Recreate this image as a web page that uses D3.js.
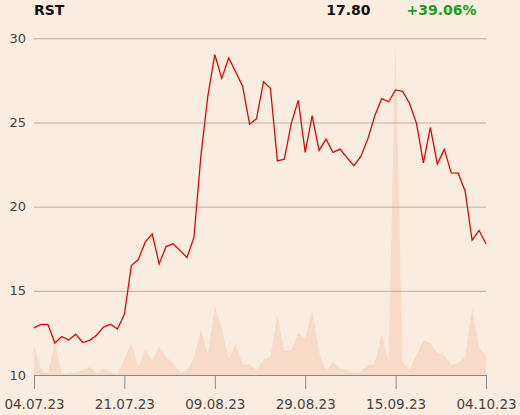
<!DOCTYPE html>
<html>
<head>
<meta charset="utf-8">
<script src="https://cdn.jsdelivr.net/npm/d3@7/dist/d3.min.js"></script>
<style>
    body { margin: 0; background: #fbece0; }
    svg { display: block; font-family: "DejaVu Sans", sans-serif; }
</style>
</head>
<body>
<svg id="chart"></svg>
<script>
'use strict';

var symbol = "RST",
    lastPrice = "17.80",
    change = "+39.06%";

// closing prices, one per trading day 04.07.23 - 04.10.23
var prices = [
    12.80, 13.00, 13.00, 11.90, 12.28, 12.08, 12.42, 11.93, 12.06, 12.36,
    12.85, 13.01, 12.73, 13.61, 16.50, 16.86, 17.89, 18.38, 16.60, 17.63,
    17.79, 17.40, 16.98, 18.17, 23.00, 26.57, 29.03, 27.62, 28.83, 28.01,
    27.16, 24.90, 25.22, 27.42, 27.03, 22.72, 22.82, 24.95, 26.31, 23.22,
    25.40, 23.34, 24.01, 23.22, 23.42, 22.92, 22.43, 22.98, 24.01, 25.38,
    26.41, 26.23, 26.93, 26.85, 26.14, 24.95, 22.60, 24.71, 22.53, 23.40,
    22.01, 21.99, 20.92, 18.01, 18.58, 17.80
];

// traded volume (thousands)
var volumes = [
    30, 5, 2, 32, 1, 2, 3, 4.5, 8, 2,
    6, 3, 1, 16, 32, 8, 25, 15, 29, 17.5,
    12.5, 3, 4.5, 17, 45, 21, 69, 47, 15, 31.5,
    10, 11, 4.5, 16, 18, 60, 24, 25, 42, 36,
    66, 23, 4, 13, 7, 5, 2.5, 3, 10, 11,
    41, 13, 332, 13, 5, 20, 35, 32, 22, 20,
    10, 12, 18, 67, 27, 19
];

var xTickLabels = ["04.07.23", "21.07.23", "09.08.23", "29.08.23", "15.09.23", "04.10.23"];
var yTicks = [10, 15, 20, 25, 30];

var width = 520,
    height = 415,
    margin = {top: 38.3, right: 34, bottom: 40, left: 34};

var svg = d3.select("#chart")
    .attr("width", width)
    .attr("height", height);

var n = prices.length;

var x = d3.scaleLinear()
    .domain([0, n - 1])
    .range([margin.left, width - margin.right]);

var y = d3.scaleLinear()
    .domain([10, 30])
    .range([height - margin.bottom, margin.top]);

var yVol = d3.scaleLinear()
    .domain([0, d3.max(volumes) * 1.014])
    .range([height - margin.bottom, margin.top]);

//volume area
svg.append("path")
    .datum(volumes)
    .attr("fill", "#f8dbc6")
    .attr("d", d3.area()
        .x(function (d, i) { return x(i); })
        .y0(yVol(0))
        .y1(function (d) { return yVol(d); }));

//grid + y labels
var yAxis = svg.append("g")
    .attr("transform", "translate(" + margin.left + ",0)")
    .call(d3.axisLeft(y)
        .tickValues(yTicks)
        .tickSize(-(width - margin.left - margin.right))
        .tickPadding(8)
        .tickFormat(d3.format("d")));
yAxis.select(".domain").remove();
yAxis.selectAll(".tick line")
    .attr("stroke", "#b5aea6")
    .attr("stroke-width", 1);
yAxis.selectAll(".tick")
    .filter(function (d) { return d === 10; })
    .select("line").remove();
yAxis.selectAll("text")
    .attr("fill", "#444")
    .attr("font-size", "13px")
    .attr("font-family", "DejaVu Sans, sans-serif");

//x axis
var tickValues = xTickLabels.map(function (d, i) {
    return i * (n - 1) / (xTickLabels.length - 1);
});
var xAxis = svg.append("g")
    .attr("transform", "translate(0," + (height - margin.bottom) + ")")
    .call(d3.axisBottom(x)
        .tickValues(tickValues)
        .tickSize(14)
        .tickSizeOuter(0)
        .tickPadding(10)
        .tickFormat(function (d, i) { return xTickLabels[i]; }));
xAxis.select(".domain").attr("stroke", "#888");
xAxis.selectAll(".tick line").attr("stroke", "#888");
xAxis.selectAll("text")
    .attr("fill", "#444")
    .attr("font-size", "13.5px")
    .attr("font-family", "DejaVu Sans, sans-serif");

//price line
svg.append("path")
    .datum(prices)
    .attr("fill", "none")
    .attr("stroke", "#d40b0b")
    .attr("stroke-width", 1.3)
    .attr("stroke-linejoin", "miter")
    .attr("d", d3.line()
        .x(function (d, i) { return x(i); })
        .y(function (d) { return y(d); }));

//header
var header = svg.append("g")
    .attr("font-size", "14px")
    .attr("font-weight", "bold");
header.append("text")
    .attr("x", 34)
    .attr("y", 14.5)
    .attr("fill", "#111")
    .text(symbol);
header.append("text")
    .attr("x", 370.5)
    .attr("y", 14.5)
    .attr("text-anchor", "end")
    .attr("fill", "#111")
    .text(lastPrice);
header.append("text")
    .attr("x", 406.5)
    .attr("y", 14.5)
    .attr("fill", "#1d9e1d")
    .text(change);
</script>
</body>
</html>
